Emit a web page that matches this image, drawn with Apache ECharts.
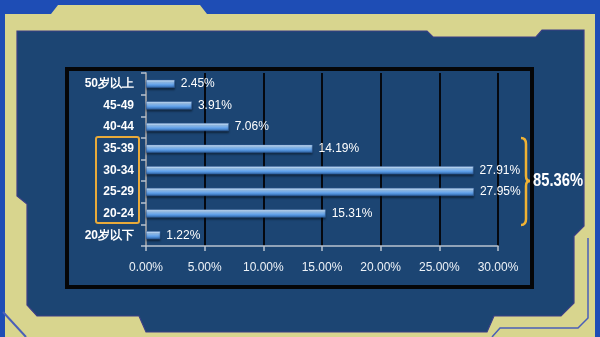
<!DOCTYPE html>
<html>
<head>
<meta charset="utf-8">
<script src="https://cdn.jsdelivr.net/npm/echarts@6/dist/echarts.min.js"></script>
<style>
html,body{margin:0;padding:0;background:#1e4db5;}
#chart{width:600px;height:337px;}
</style>
</head>
<body>
<div id="chart"></div>
<script>
// ---- data ----
var categories = ['50岁以上', '45-49', '40-44', '35-39', '30-34', '25-29', '20-24', '20岁以下'];
var values = [2.45, 3.91, 7.06, 14.19, 27.91, 27.95, 15.31, 1.22];
var xMin = 0, xMax = 30, xStep = 5;
var groupTotalLabel = '85.36%';

var chart = echarts.init(document.getElementById('chart'), null, {renderer: 'canvas'});

var yellow = '#d8d58e';
var inner = '#1c4573';
var orange = '#e8aa3a';
var braceColor = '#f0b234';

function braceCurve(x1, y1, cx, cy, x2, y2) {
  return {type: 'bezierCurve', z: 10, silent: true,
    shape: {x1: x1, y1: y1, cpx1: cx, cpy1: cy, x2: x2, y2: y2},
    style: {stroke: braceColor, lineWidth: 2.5, fill: null}};
}
function braceLine(x1, y1, x2, y2) {
  return {type: 'line', z: 10, silent: true,
    shape: {x1: x1, y1: y1, x2: x2, y2: y2},
    style: {stroke: braceColor, lineWidth: 2.5}};
}

var option = {
  backgroundColor: '#1e4db5',
  animation: false,
  grid: {left: 146, right: 102, top: 73, bottom: 91, containLabel: false},
  xAxis: {
    type: 'value', min: xMin, max: xMax, interval: xStep,
    axisLine: {show: true, lineStyle: {color: '#b8c2cf', width: 1.5}},
    axisTick: {show: true, length: 5, lineStyle: {color: '#b8c2cf', width: 1.5}},
    axisLabel: {
      color: '#eef3f8', fontSize: 12, fontFamily: 'Liberation Sans', margin: 16,
      formatter: function (v) { return v.toFixed(2) + '%'; }
    },
    splitLine: {show: true, lineStyle: {color: '#05080f', width: 2}}
  },
  yAxis: {
    type: 'category', data: categories, inverse: true,
    axisLine: {show: true, lineStyle: {color: '#b8c2cf', width: 1.5}},
    axisTick: {show: true, length: 5, lineStyle: {color: '#b8c2cf', width: 1.5}},
    axisLabel: {color: '#ffffff', fontSize: 12, fontWeight: 'bold', fontFamily: 'Liberation Sans', margin: 12}
  },
  series: [{
    type: 'bar',
    data: values,
    barWidth: 8,
    itemStyle: {
      color: new echarts.graphic.LinearGradient(0, 0, 0, 1, [
        {offset: 0, color: '#e2f1ff'},
        {offset: 0.3, color: '#98c6f6'},
        {offset: 0.65, color: '#5b9ce6'},
        {offset: 1, color: '#2b5f9e'}
      ]),
      borderColor: '#3563a3', borderWidth: 0.5,
      shadowColor: 'rgba(0,0,0,0.45)', shadowOffsetY: 2, shadowBlur: 2
    },
    label: {
      show: true, position: 'right', distance: 6,
      color: '#ffffff', fontSize: 12, fontFamily: 'Liberation Sans',
      formatter: function (p) { return p.value.toFixed(2) + '%'; }
    },
    z: 5
  }],
  graphic: [
    // yellow frame
    {type: 'polygon', z: -30, silent: true,
      shape: {points: [[5,14],[51,14],[58,5],[200,5],[207,14],[595,14],[595,337],[5,337]]},
      style: {fill: yellow}},
    // inner dark panel
    {type: 'polygon', z: -20, silent: true,
      shape: {points: [[17,31],[427,31],[433,37],[536,37],[542,30],[584,30],[584,226],[574,236],[574,303],[561,316],[494,316],[487,332],[146,332],[139,316],[37,316],[27,305],[27,204],[17,196]]},
      style: {fill: inner, stroke: '#3c3f86', lineWidth: 1.2}},
    // decorative bottom corner lines
    {type: 'polyline', z: -25, silent: true,
      shape: {points: [[3,312],[26,337]]},
      style: {stroke: '#4a5fb8', lineWidth: 2, fill: null}},
    {type: 'polyline', z: -25, silent: true,
      shape: {points: [[588,238],[588,318],[578,328],[500,328],[492,337]]},
      style: {stroke: '#4a5fb8', lineWidth: 1.5, fill: null}},
    // black chart box
    {type: 'rect', z: -10, silent: true,
      shape: {x: 67, y: 69, width: 465, height: 218},
      style: {fill: null, stroke: '#050608', lineWidth: 4}},
    // orange label bracket box
    {type: 'rect', z: 10, silent: true,
      shape: {x: 96, y: 137, width: 43, height: 86, r: 2},
      style: {fill: null, stroke: orange, lineWidth: 2}},
    // curly brace
    braceCurve(521, 138, 526, 138, 526, 144),
    braceLine(526, 144, 526, 176),
    braceCurve(526, 176, 526, 181, 530, 181),
    braceCurve(530, 181, 526, 181, 526, 186),
    braceLine(526, 186, 526, 219),
    braceCurve(526, 219, 526, 225, 521, 225),
    // group total
    {type: 'text', z: 10, silent: true, x: 533, y: 181, scaleX: 0.82, originX: 0, originY: 0,
      style: {text: groupTotalLabel, fill: '#ffffff', font: 'bold 18px "Liberation Sans"', verticalAlign: 'middle', align: 'left'}}
  ]
};
chart.setOption(option);
</script>
</body>
</html>
